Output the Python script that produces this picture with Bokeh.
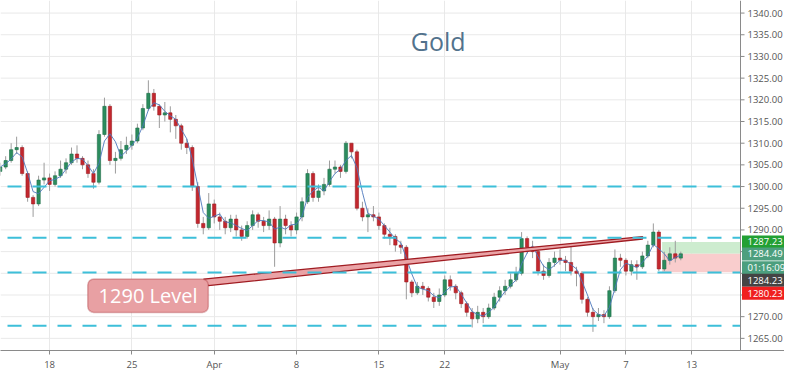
import pandas as pd
from bokeh.plotting import figure
from bokeh.models import (Range1d, FixedTicker, Label, BoxAnnotation, ColumnDataSource)
from bokeh.embed import file_html
from bokeh.resources import INLINE
from bokeh.core.properties import value

# ---------------- data (8-hour bars, 3 per trading day, day 0 = Mon 18 Mar) ----------------
bar_index = list(range(-9, 116))
bars_per_day = 3
first_open = 1303.5
closes = [
    1304.5, 1306, 1308.5, 1309, 1303, 1297.5, 1296, 1301.5, 1302, 1300.5,
    1302.5, 1304, 1305.5, 1307.5, 1306.5, 1305, 1303, 1301, 1312, 1318.5,
    1306, 1306.5, 1308.5, 1309.5, 1310.5, 1313.5, 1318, 1321.5, 1318.5, 1316.5,
    1317, 1315.5, 1314, 1310, 1309, 1300, 1291.5, 1290.5, 1296, 1293,
    1292, 1290.5, 1292.5, 1290, 1288.5, 1291, 1293.5, 1292, 1291, 1292.5,
    1287, 1292.5, 1291, 1290, 1293, 1296.5, 1303, 1297.5, 1299, 1300.5,
    1304, 1304.5, 1303.5, 1310, 1308, 1295, 1293, 1293.5, 1293, 1291,
    1289, 1288.5, 1286.5, 1286, 1278, 1275.5, 1277, 1276.5, 1274.5, 1273.5,
    1275, 1278.5, 1277, 1275.5, 1273, 1271, 1269.5, 1271, 1270, 1272,
    1274.5, 1276, 1277, 1278.5, 1280, 1288, 1286, 1285, 1280.5, 1279.5,
    1282.5, 1283.5, 1283, 1282.5, 1280.5, 1280, 1274, 1271, 1270, 1270.5,
    1270, 1276, 1283.5, 1283, 1280.5, 1282, 1281.5, 1284, 1286.5, 1289.5,
    1281, 1283, 1284.5, 1283.5, 1284.5,
]
highs = [
    1305.5, 1307, 1310, 1311.5, 1309.5, 1303.5, 1298, 1302.5, 1305.5, 1303,
    1303.5, 1306, 1306.5, 1309, 1309.5, 1307, 1306, 1304, 1313, 1320.5,
    1319, 1308, 1310.5, 1311.5, 1312, 1314.5, 1319, 1324.5, 1322.5, 1319,
    1319.5, 1318.5, 1316.5, 1314.5, 1311, 1309.5, 1301, 1293, 1298.5, 1297,
    1294, 1293, 1293.5, 1293.5, 1291, 1292, 1294.5, 1294, 1293, 1294.5,
    1293, 1295.5, 1293.5, 1292, 1294, 1297.5, 1304, 1303.5, 1300.5, 1302,
    1306, 1306, 1305, 1310.5, 1310, 1308.5, 1296.5, 1295, 1295.5, 1294,
    1291.5, 1290.5, 1289, 1287.5, 1286.5, 1278.5, 1278, 1278, 1277, 1275.5,
    1276.5, 1279.5, 1279.5, 1277.5, 1276, 1273.5, 1272, 1272.5, 1272, 1273,
    1275.5, 1277, 1278.5, 1280, 1281.5, 1289.5, 1288.5, 1287.5, 1285.5, 1282,
    1283.5, 1285, 1285.5, 1284, 1287, 1281.5, 1280.5, 1274.5, 1272, 1272,
    1271.5, 1277, 1285.5, 1284.5, 1283.5, 1283, 1283, 1285, 1287.5, 1291.5,
    1290, 1285, 1286, 1287.5, 1285,
]
lows = [
    1302.5, 1304, 1305.5, 1307.5, 1302.5, 1296.5, 1293, 1295.5, 1300.5, 1299,
    1300, 1302, 1303, 1305, 1305.5, 1304, 1302, 1299.5, 1300.5, 1311.5,
    1305, 1303, 1306, 1307.5, 1308.5, 1310, 1313, 1317.5, 1317.5, 1313.5,
    1315, 1312.5, 1311, 1308.5, 1307.5, 1299, 1290.5, 1289, 1290, 1291.5,
    1290, 1289, 1289.5, 1288.5, 1287.5, 1288, 1290, 1290.5, 1289.5, 1290,
    1281.5, 1286, 1289, 1288.5, 1289, 1292, 1296, 1296.5, 1296.5, 1298,
    1300, 1303, 1302, 1303, 1306.5, 1294.5, 1292, 1289.5, 1292, 1290,
    1288, 1286.5, 1285, 1284.5, 1274, 1274.5, 1275, 1275, 1273.5, 1272,
    1272.5, 1274.5, 1276, 1274, 1272, 1270, 1267.5, 1268.5, 1268.5, 1269.5,
    1271.5, 1273.5, 1275, 1276.5, 1278, 1279.5, 1284.5, 1283.5, 1279.5, 1278.5,
    1279, 1281.5, 1282, 1280.5, 1279.5, 1277, 1273, 1270, 1266.5, 1269,
    1268.5, 1269.5, 1275.5, 1281.5, 1279.5, 1279.5, 1278.5, 1281, 1283.5, 1286,
    1280.5, 1280.5, 1282, 1282.5, 1283,
]

day_ticks = [0, 5, 10, 15, 20, 24, 31, 35, 39]
day_tick_labels = ["18", "25", "Apr", "8", "15", "22", "May", "7", "13"]
price_ticks = list(range(1265, 1345, 5))
price_tick_labels = ["%.2f" % v for v in price_ticks]
levels = [1300.0, 1288.2, 1280.2, 1267.9]

position_start_day = 37.2
target_price = 1287.23
entry_price = 1284.49
stop_price = 1280.23

price_tags = ["1287.23", "1284.49", "01:16:09", "1284.23", "1280.23"]
price_tag_y = [1287.23, 1284.46, 1281.25, 1278.4, 1275.4]
price_tag_colors = ["#22a033", "#4c9f7e", "#4c9f7e", "#444444", "#f01f1f"]

callout_text = "1290 Level"
callout_box = dict(left=2.32, right=9.64, bottom=1270.99, top=1278.68)
callout_wedge_x = [9.35, 36.01, 36.01, 9.64]
callout_wedge_y = [1278.68, 1288.46, 1287.91, 1277.14]

title_text = "Gold"
title_pos = (23.6, 1333.6)

# ---------------- layout ----------------
W, H = 784, 373
PLOT_W = 740            # width of the chart pane; the price scale sits to its right
X0, X1 = -2.98, 41.96   # visible days in the chart pane
Y0, Y1 = 1262.2, 1342.9
px_per_day = PLOT_W / (X1 - X0)
XF = X0 + W / px_per_day  # full frame right edge (price scale area included)
def dx(px):
    return px / px_per_day

opens = [first_open] + closes[:-1]
xs = [k / bars_per_day for k in bar_index]
up = [c >= o for o, c in zip(opens, closes)]
src = ColumnDataSource(dict(
    x=xs, open=opens, close=closes, high=highs, low=lows,
    top=[max(o, c) for o, c in zip(opens, closes)],
    bottom=[min(o, c) for o, c in zip(opens, closes)],
    fill=["#2b8c5e" if u else "#c3272e" for u in up],
    edge=["#1f6e48" if u else "#9e1c22" for u in up],
))
ma = pd.Series(closes).rolling(3, min_periods=1).mean().tolist()

p = figure(width=W, height=H, x_range=Range1d(X0, XF), y_range=Range1d(Y0, Y1),
           toolbar_location=None, output_backend="svg",
           min_border_left=0, min_border_top=0, min_border_right=0, min_border_bottom=20)
p.outline_line_color = None
p.background_fill_color = "white"
p.border_fill_color = "white"
p.yaxis.visible = False
p.ygrid.visible = False

# vertical grid at date ticks
p.xgrid.ticker = FixedTicker(ticks=day_ticks)
p.xgrid.grid_line_color = "#e9e9e9"

# horizontal grid (chart pane only)
p.segment(x0=[X0] * len(price_ticks), y0=price_ticks, x1=[X1] * len(price_ticks), y1=price_ticks,
          line_color="#e9e9e9", line_width=1)

# time axis
ax = p.xaxis[0]
ax.ticker = FixedTicker(ticks=day_ticks)
ax.major_label_overrides = {t: l for t, l in zip(day_ticks, day_tick_labels)}
ax.axis_line_color = "#8a8a8a"
ax.major_tick_line_color = "#8a8a8a"
ax.minor_tick_line_color = None
ax.major_tick_in = 0
ax.major_tick_out = 4
ax.major_label_text_font = "Open Sans"
ax.major_label_text_font_size = "9.5px"
ax.major_label_text_color = "#555555"
ax.major_label_standoff = 3

# long position boxes
p.quad(left=position_start_day, right=X1, bottom=entry_price, top=target_price,
       fill_color="#cdeccf", line_color=None)
p.quad(left=position_start_day, right=X1, bottom=stop_price, top=entry_price,
       fill_color="#f9cdcd", line_color=None)

# candles
p.segment(x0="x", y0="low", x1="x", y1="high", source=src, line_color="#9c9c9c", line_width=1)
p.vbar(x="x", width=0.2, top="top", bottom="bottom", source=src,
       fill_color="fill", line_color="edge", line_width=0.6)
p.line(xs, ma, line_color="#4d78bd", line_width=1, line_alpha=0.9)

# callout wedge
p.patch(callout_wedge_x, callout_wedge_y, fill_color="#eaa3a6", line_color="#a01c22", line_width=1.3)

# horizontal levels
p.segment(x0=[X0 + dx(7)] * len(levels), y0=levels, x1=[X1] * len(levels), y1=levels,
          line_color="#3dbfd9", line_width=2, line_dash="14 11")

# price scale (right)
p.segment(x0=[X1], y0=[Y0], x1=[X1], y1=[Y1], line_color="#8a8a8a", line_width=1)
p.segment(x0=[X1] * len(price_ticks), y0=price_ticks, x1=[X1 + dx(4)] * len(price_ticks),
          y1=price_ticks, line_color="#8a8a8a", line_width=1)
p.text(x=[X1 + dx(7)] * len(price_ticks), y=price_ticks, text=price_tick_labels,
       text_font=value("Open Sans"), text_font_size="9.5px", text_color="#555555",
       text_align="left", text_baseline="middle")

# price tags
tag_half = 1.5
p.quad(left=X1 + dx(1.5), right=XF, bottom=[v - tag_half for v in price_tag_y],
       top=[v + tag_half for v in price_tag_y], fill_color=price_tag_colors, line_color=None)
p.text(x=[X1 + dx(7)] * len(price_tags), y=price_tag_y, text=price_tags,
       text_font=value("Open Sans"), text_font_size="9.5px", text_color="white",
       text_align="left", text_baseline="middle")

# callout box + text
box_kw = dict(fill_color="#e8a0a3", fill_alpha=1.0, line_color="#a01c22", line_width=1.5,
              **callout_box)
try:
    box = BoxAnnotation(border_radius=6, **box_kw)
except Exception:
    box = BoxAnnotation(**box_kw)
p.add_layout(box)
p.add_layout(Label(x=(callout_box["left"] + callout_box["right"]) / 2,
                   y=(callout_box["top"] + callout_box["bottom"]) / 2,
                   text=callout_text, text_align="center", text_baseline="middle",
                   text_font="Open Sans", text_font_size="20px", text_color="white"))

# title
p.add_layout(Label(x=title_pos[0], y=title_pos[1], text=title_text, text_align="center",
                   text_baseline="middle", text_font="Open Sans", text_font_size="25px",
                   text_color="#52728c"))

open("out.html", "w").write(file_html(p, INLINE))
